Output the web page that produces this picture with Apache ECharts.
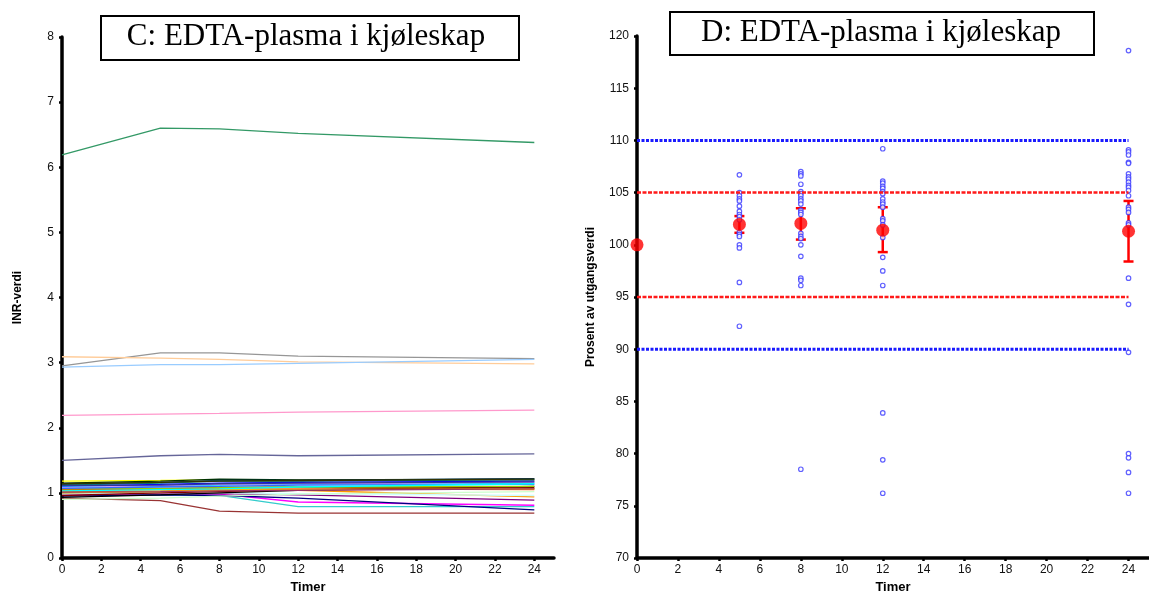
<!DOCTYPE html>
<html>
<head>
<meta charset="utf-8">
<title>EDTA-plasma i kjøleskap</title>
<script src="https://cdn.jsdelivr.net/npm/echarts@6/dist/echarts.min.js"></script>
<style>
  html, body { margin: 0; padding: 0; background: #fff; }
  #main { width: 1149px; height: 597px; }
</style>
</head>
<body>
<div id="main"></div>
<script>
// tidspunkt (timer) for INR-målingene
const hours = [0, 5, 8, 12, 24];
const xTicks = [0, 2, 4, 6, 8, 10, 12, 14, 16, 18, 20, 22, 24];

// C: INR-verdi per prøve, ett array per linje
const inrValues = [
  [6.19, 6.60, 6.59, 6.52, 6.38],
  [2.95, 3.15, 3.15, 3.10, 3.06],
  [3.09, 3.07, 3.05, 3.01, 2.98],
  [2.93, 2.97, 2.97, 2.99, 3.05],
  [2.19, 2.21, 2.22, 2.24, 2.27],
  [1.50, 1.57, 1.59, 1.57, 1.60],
  [0.92, 0.88, 0.72, 0.69, 0.69],
  [0.99, 0.97, 0.96, 0.79, 0.79],
  [0.97, 0.99, 0.98, 0.86, 0.81],
  [0.95, 0.97, 0.96, 0.92, 0.74],
  [1.00, 1.00, 0.99, 0.97, 0.89],
  [1.02, 1.03, 1.05, 1.04, 0.94],
  [0.98, 1.00, 1.00, 0.99, 0.96],
  [0.93, 0.97, 1.00, 1.04, 1.10],
  [1.18, 1.19, 1.20, 1.19, 1.19],
  [1.15, 1.18, 1.21, 1.20, 1.21],
  [1.13, 1.16, 1.19, 1.19, 1.22],
  [1.12, 1.15, 1.18, 1.18, 1.20],
  [1.10, 1.13, 1.15, 1.16, 1.18],
  [1.09, 1.10, 1.12, 1.13, 1.15],
  [1.08, 1.11, 1.13, 1.14, 1.16],
  [1.05, 1.06, 1.08, 1.09, 1.07],
  [1.04, 1.05, 1.06, 1.06, 1.05],
  [1.06, 1.07, 1.08, 1.09, 1.10],
  [1.11, 1.12, 1.14, 1.15, 1.17],
  [0.96, 1.00, 1.02, 1.05, 1.08],
  [1.00, 1.02, 1.04, 1.05, 1.06],
  [1.07, 1.09, 1.10, 1.12, 1.13],
  [1.03, 1.05, 1.06, 1.09, 1.14],
  [1.14, 1.16, 1.18, 1.19, 1.21],
  [1.01, 1.02, 1.03, 1.04, 1.06],
  [0.90, 0.92, 0.95, 0.98, 1.02]
];
const lineColors = [
  '#339966', '#969696', '#FFCC99', '#99CCFF', '#FF99CC', '#666699', '#993333', '#33CCCC',
  '#FF00FF', '#000080', '#800080', '#FF9900', '#CCFFFF', '#000000', '#FFFF00', '#003300',
  '#003366', '#008080', '#0000FF', '#00CCFF', '#CC99FF', '#993300', '#FF6600', '#99CC00',
  '#333399', '#800000', '#FFCC00', '#3366FF', '#00FFFF', '#333300', '#993366', '#CCFFCC'
];

// D: prosent av utgangsverdi, enkeltprøver
const pct5 = [106.7, 105.0, 104.7, 104.4, 104.2, 103.7, 103.2, 102.9, 102.7, 102.4, 101.2, 101.0, 100.8, 100.0, 99.7, 96.4, 92.2];
const pct8 = [107.0, 106.8, 106.6, 105.8, 105.1, 104.9, 104.7, 104.4, 104.2, 103.9, 103.3, 103.1, 102.9, 101.1, 100.8, 100.6, 100.0, 98.9, 96.8, 96.6, 96.1, 78.5];
const pct12 = [109.2, 106.1, 105.9, 105.6, 105.4, 105.1, 104.9, 104.4, 104.1, 103.9, 103.6, 102.5, 102.3, 101.9, 100.7, 98.8, 97.5, 96.1, 83.9, 79.4, 76.2];
const pct24 = [118.6, 109.1, 108.9, 108.6, 107.9, 107.8, 106.8, 106.5, 106.3, 106.0, 105.7, 105.5, 105.2, 104.7, 103.6, 103.4, 103.1, 102.1, 101.9, 96.8, 94.3, 89.7, 80.0, 79.6, 78.2, 76.2];

// gjennomsnitt med feilstolper
const meanVals = [100, 101.95, 102.05, 101.4, 101.3];
const errLow = [null, 101.15, 100.5, 99.3, 98.4];
const errHigh = [null, 102.75, 103.5, 103.6, 104.2];

// grenselinjer
const blueLimits = [110, 90];
const redLimits = [105, 95];

const sans = "'Liberation Sans', Arial, sans-serif";
const serif = "'Liberation Serif', 'Times New Roman', serif";

function pts(vals, x) {
  return vals.map(v => [x, v]);
}

const chart = echarts.init(document.getElementById('main'), null, { renderer: 'canvas' });

const axisCommon = {
  axisLine: { show: true, onZero: false, lineStyle: { color: '#000', width: 3.5 } },
  axisTick: { show: true, length: 3, lineStyle: { color: '#000', width: 2.5 } },
  splitLine: { show: false },
  nameTextStyle: { fontFamily: sans, fontWeight: 'bold', fontSize: 12, color: '#000' }
};

function xAxisFor(grid) {
  return Object.assign({}, axisCommon, {
    type: 'value', gridIndex: grid, min: 0, max: 25,
    name: 'Timer', nameLocation: 'middle', nameGap: 23,
    nameTextStyle: { fontFamily: sans, fontWeight: 'bold', fontSize: 13, color: '#000' },
    axisTick: { show: true, length: 3, customValues: xTicks, lineStyle: { color: '#000', width: 2.5 } },
    axisLabel: { customValues: xTicks, margin: 6, fontFamily: sans, fontSize: 12, color: '#111' }
  });
}

const series = [];
inrValues.forEach((row, i) => {
  series.push({
    type: 'line', xAxisIndex: 0, yAxisIndex: 0,
    data: row.map((v, j) => [hours[j], v]),
    symbol: 'none', silent: true,
    lineStyle: { color: lineColors[i], width: 1.3 }
  });
});

blueLimits.forEach(v => {
  series.push({
    type: 'line', xAxisIndex: 1, yAxisIndex: 1, symbol: 'none', silent: true,
    data: [[0, v], [24, v]],
    lineStyle: { color: '#1a1aff', width: 3, type: [3, 1.5] }
  });
});
redLimits.forEach(v => {
  series.push({
    type: 'line', xAxisIndex: 1, yAxisIndex: 1, symbol: 'none', silent: true,
    data: [[0, v], [24, v]],
    lineStyle: { color: '#ff1a1a', width: 2.5, type: [4, 1.5] }
  });
});

series.push({
  type: 'scatter', xAxisIndex: 1, yAxisIndex: 1, silent: true,
  data: [].concat(pts(pct5, 5), pts(pct8, 8), pts(pct12, 12), pts(pct24, 24)),
  symbol: 'circle', symbolSize: 4.5,
  itemStyle: { color: '#fff', borderColor: '#3838ff', borderWidth: 1.2 }
});

series.push({
  type: 'custom', xAxisIndex: 1, yAxisIndex: 1, silent: true,
  data: hours.map((h, i) => [h, errLow[i], errHigh[i]]).filter(d => d[1] != null),
  renderItem: function (params, api) {
    const top = api.coord([api.value(0), api.value(2)]);
    const bot = api.coord([api.value(0), api.value(1)]);
    const st = { stroke: '#ff0000', lineWidth: 2.5 };
    return {
      type: 'group',
      children: [
        { type: 'line', shape: { x1: top[0], y1: top[1], x2: bot[0], y2: bot[1] }, style: st },
        { type: 'line', shape: { x1: top[0] - 5, y1: top[1], x2: top[0] + 5, y2: top[1] }, style: st },
        { type: 'line', shape: { x1: bot[0] - 5, y1: bot[1], x2: bot[0] + 5, y2: bot[1] }, style: st }
      ]
    };
  }
});

series.push({
  type: 'scatter', xAxisIndex: 1, yAxisIndex: 1, silent: true,
  data: hours.map((h, i) => [h, meanVals[i]]),
  symbol: 'circle', symbolSize: 13,
  itemStyle: { color: '#ff0000' }
});

const option = {
  backgroundColor: '#fff',
  animation: false,
  grid: [
    { left: 62, right: 595, top: 37, bottom: 39, outerBoundsMode: 'none' },
    { left: 637, right: 0, top: 36, bottom: 39, outerBoundsMode: 'none' }
  ],
  xAxis: [xAxisFor(0), xAxisFor(1)],
  yAxis: [
    Object.assign({}, axisCommon, {
      type: 'value', gridIndex: 0, min: 0, max: 8, interval: 1,
      name: 'INR-verdi', nameLocation: 'middle', nameGap: 38,
      axisLabel: { margin: 8, fontFamily: sans, fontSize: 12, color: '#111' }
    }),
    Object.assign({}, axisCommon, {
      type: 'value', gridIndex: 1, min: 70, max: 120, interval: 5,
      name: 'Prosent av utgangsverdi', nameLocation: 'middle', nameGap: 40,
      axisLabel: { margin: 8, fontFamily: sans, fontSize: 12, color: '#111' }
    })
  ],
  graphic: [
    {
      type: 'rect', left: 100, top: 15, silent: true,
      shape: { width: 418, height: 44 },
      style: { fill: '#fff', stroke: '#000', lineWidth: 2 }
    },
    {
      type: 'text', x: 306, y: 37, silent: true,
      style: { text: 'C: EDTA-plasma i kjøleskap', font: '31px ' + serif, fill: '#000', align: 'center', verticalAlign: 'middle' }
    },
    {
      type: 'rect', left: 669, top: 11, silent: true,
      shape: { width: 424, height: 43 },
      style: { fill: '#fff', stroke: '#000', lineWidth: 2 }
    },
    {
      type: 'text', x: 881, y: 33, silent: true,
      style: { text: 'D: EDTA-plasma i kjøleskap', font: '31px ' + serif, fill: '#000', align: 'center', verticalAlign: 'middle' }
    }
  ],
  series: series
};

chart.setOption(option);
</script>
</body>
</html>
